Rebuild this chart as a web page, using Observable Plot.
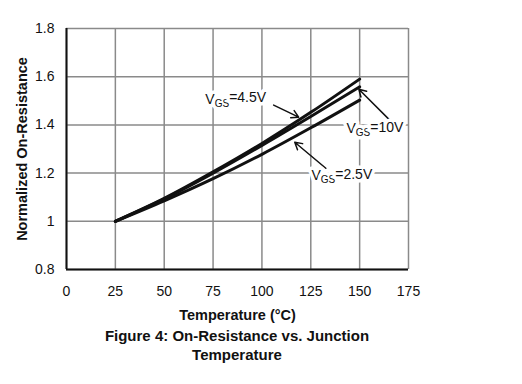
<!DOCTYPE html>
<html>
<head>
<meta charset="utf-8">
<script src="https://cdn.jsdelivr.net/npm/d3@7"></script>
<script src="https://cdn.jsdelivr.net/npm/@observablehq/plot@0.6"></script>
<style>
  body { margin: 0; background: #fff; font-family: "Liberation Sans", Arial, sans-serif; }
  #chart svg { display: block; }
  .cap { width: 474px; text-align: center; font-weight: bold; font-size: 15px; line-height: 19px; color: #111; }
</style>
</head>
<body>
<div id="chart"></div>
<div class="cap">Figure 4: On-Resistance vs. Junction<br>Temperature</div>
<script>
// Data
const temperature = [25, 50, 75, 100, 125, 150];
const vgs45 = [1.0, 1.095, 1.205, 1.323, 1.452, 1.59];
const vgs10 = [1.0, 1.093, 1.200, 1.315, 1.435, 1.558];
const vgs25 = [1.0, 1.085, 1.177, 1.278, 1.388, 1.503];
const seriesNames = ["VGS=4.5V", "VGS=10V", "VGS=2.5V"];
const xTicks = [0, 25, 50, 75, 100, 125, 150, 175];
const yTicks = [0.8, 1, 1.2, 1.4, 1.6, 1.8];

// Annotation labels (data coordinates) and arrows
const labelX = [86.6, 157.8, 140.9];
const labelY = [1.507, 1.386, 1.191];
const arrowX1 = [106, 164.9, 132.7];
const arrowY1 = [1.482, 1.424, 1.220];
const arrowX2 = [118.8, 149.6, 116.8];
const arrowY2 = [1.432, 1.548, 1.328];

const rows = [];
[vgs45, vgs10, vgs25].forEach((vals, i) => {
  temperature.forEach((t, j) => rows.push({series: seriesNames[i], t, r: vals[j]}));
});
const labels = seriesNames.map((s, i) => ({s, x: labelX[i], y: labelY[i]}));
const arrows = seriesNames.map((s, i) => ({x1: arrowX1[i], y1: arrowY1[i], x2: arrowX2[i], y2: arrowY2[i]}));

const plot = Plot.plot({
  width: 522,
  height: 326,
  marginTop: 28,
  marginLeft: 66,
  marginRight: 114,
  marginBottom: 57,
  style: {fontFamily: '"Liberation Sans", Arial, sans-serif', fontSize: "14px", color: "#111", background: "#fff"},
  x: {domain: [0, 175]},
  y: {domain: [0.8, 1.8]},
  marks: [
    Plot.gridX(xTicks, {stroke: "#8a8a8a", strokeOpacity: 1, strokeWidth: 1.5}),
    Plot.gridY(yTicks, {stroke: "#8a8a8a", strokeOpacity: 1, strokeWidth: 1.5}),
    Plot.ruleX([0], {stroke: "#111", strokeWidth: 2}),
    Plot.ruleY([0.8], {stroke: "#111", strokeWidth: 2}),
    Plot.axisX({ticks: xTicks, tickSize: 0, tickPadding: 17, tickFormat: d => String(d),
      label: "Temperature (°C)", labelAnchor: "center", labelArrow: "none", labelOffset: 50}),
    Plot.axisY({ticks: yTicks, tickSize: 0, tickPadding: 12, tickFormat: d => String(+d.toFixed(1)),
      label: "Normalized On-Resistance", labelAnchor: "center", labelArrow: "none", labelOffset: 50}),
    Plot.line(rows, {x: "t", y: "r", z: "series", stroke: "#111", strokeWidth: 3, curve: "monotone-x"}),
    Plot.arrow(arrows, {x1: "x1", y1: "y1", x2: "x2", y2: "y2", stroke: "#111", strokeWidth: 1.5, headLength: 8}),
    Plot.text(labels, {x: "x", y: "y", text: "s", fontSize: 14, fill: "#111",
      stroke: "white", strokeWidth: 7, className: "vgs-label"})
  ]
});
document.getElementById("chart").appendChild(plot);

// Make axis titles bold and slightly larger
d3.select(plot).selectAll("g[aria-label='x-axis label'] text, g[aria-label='y-axis label'] text")
  .attr("font-weight", "bold").attr("font-size", 14.5);

// Subscript "GS" in annotation labels
d3.select(plot).selectAll(".vgs-label text").each(function() {
  const txt = this.textContent;
  const rest = txt.slice(3);
  const sel = d3.select(this);
  sel.text(null);
  sel.append("tspan").text("V");
  sel.append("tspan").attr("dy", "0.3em").attr("font-size", 10).text("GS");
  sel.append("tspan").attr("dy", "-0.3em").text(rest);
});
</script>
</body>
</html>
